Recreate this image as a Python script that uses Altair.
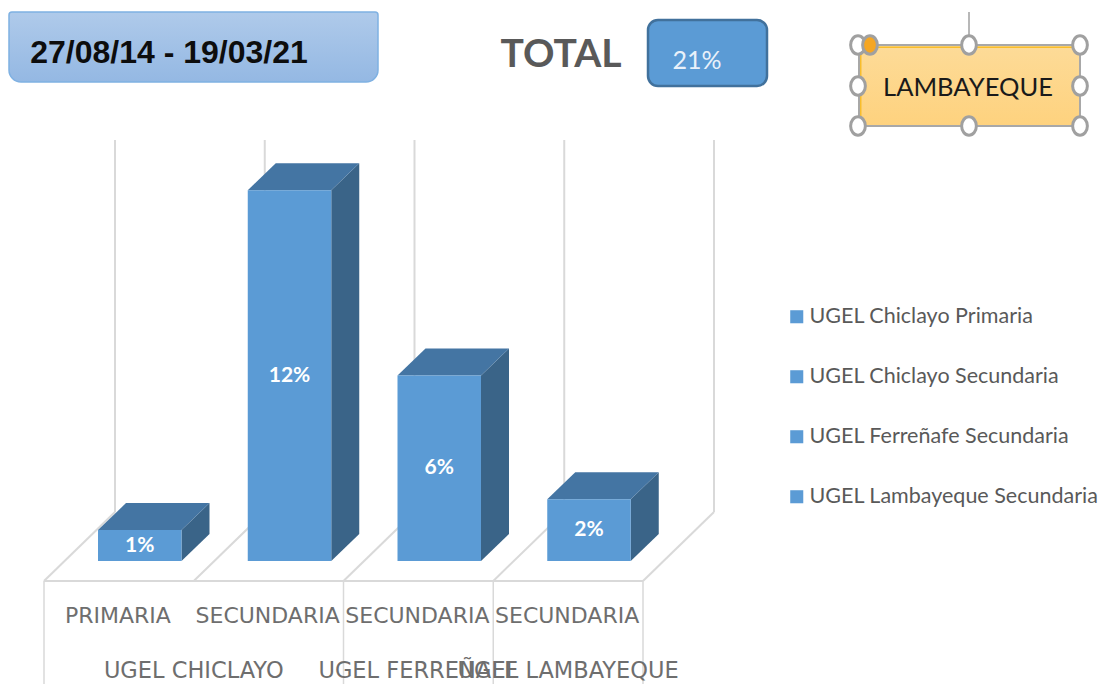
import altair as alt
import pandas as pd

# ---- chart values
groups = ["UGEL CHICLAYO", "UGEL FERREÑAFE", "UGEL LAMBAYEQUE"]
group_centres = [1.0, 2.5, 3.5]
levels = ["PRIMARIA", "SECUNDARIA", "SECUNDARIA", "SECUNDARIA"]
series = ["UGEL Chiclayo Primaria", "UGEL Chiclayo Secundaria",
          "UGEL Ferreñafe Secundaria", "UGEL Lambayeque Secundaria"]
values = [1, 12, 6, 2]
period = "27/08/14 - 19/03/21"
total_label = "TOTAL"
total_value = "21%"
filter_label = "LAMBAYEQUE"

FONT = "Lato"
FRONT, TOP, SIDE = "#5b9bd5", "#4475a3", "#3a6488"
GRID = "#d9d9d9"

W, H = 1096, 676
SLOT = 149.75            # px per category
UNIT = 30.9              # px per percentage point
ORIGIN_X, ORIGIN_Y = 44 - 8, 561 - 8
px = lambda v: (v) / SLOT
py = lambda v: (v) / UNIT
xs = alt.Scale(domain=[-ORIGIN_X / SLOT, (W - ORIGIN_X) / SLOT], range=[0, W], nice=False, zero=False)
ys = alt.Scale(domain=[(ORIGIN_Y - H) / UNIT, ORIGIN_Y / UNIT], range=[H, 0], nice=False, zero=False)
X = lambda f, t="Q": alt.X(f"{f}:{t}", scale=xs, axis=None)
Y = lambda f, t="Q": alt.Y(f"{f}:{t}", scale=ys, axis=None)

BAR_OFF, BAR_W = px(54), px(83.5)
DX, DY = px(28), py(27)
FLOOR = py(-20)
WALL_DX, WALL_DY = px(71), py(69)
WALL_TOP = py(421)
BOTTOM = (ORIGIN_Y - H) / UNIT

EMPTY = alt.Data(values=[{"a": 1}])

def seg(x1, y1, x2, y2, color=GRID, width=2):
    d = pd.DataFrame({"x": [x1, x2], "y": [y1, y2]})
    return alt.Chart(d).mark_line(color=color, strokeWidth=width, clip=False).encode(X("x"), Y("y"))

def box(x0, x1, y0, y1, **kw):
    return alt.Chart(EMPTY).mark_rect(**kw).encode(
        x=alt.value(x0 - 8), x2=alt.value(x1 - 8), y=alt.value(y0 - 8), y2=alt.value(y1 - 8))

def label(text, x, y, **kw):
    return alt.Chart(EMPTY).mark_text(text=text, baseline="middle", **kw).encode(
        x=alt.value(x - 8), y=alt.value(y - 8))

def grad(c0, c1):
    return alt.LinearGradient(gradient="linear", x1=0, x2=0, y1=0, y2=1,
                              stops=[alt.GradientStop(color=c0, offset=0), alt.GradientStop(color=c1, offset=1)])

layers = []

# 3-D floor and walls
n = len(values)
for i in range(n + 1):
    layers.append(seg(i, FLOOR, i + WALL_DX, FLOOR + WALL_DY))
    layers.append(seg(i + WALL_DX, FLOOR + WALL_DY, i + WALL_DX, WALL_TOP))
layers.append(seg(0, FLOOR, n, FLOOR))
for i in [0, 2, 3, 4]:
    layers.append(seg(i, FLOOR, i, BOTTOM, width=1.5))

# bars
rows = pd.DataFrame({"i": range(n), "series": series, "value": values, "level": levels})
rows["x0"] = rows.i + BAR_OFF
rows["x1"] = rows.x0 + BAR_W
rows["text"] = [f"{v}%" for v in values]
rows["mid"] = rows.value / 2
rows["cx"] = (rows.x0 + rows.x1) / 2
rows["lx"] = rows.i + 0.5 - px(1)

side = pd.concat([
    pd.DataFrame({"i": rows.i, "px": rows.x1, "top": rows.value, "low": 0.0}),
    pd.DataFrame({"i": rows.i, "px": rows.x1 + DX, "top": rows.value + DY, "low": DY}),
]).reset_index(drop=True)
top = pd.concat([
    pd.DataFrame({"i": rows.i, "py": rows.value, "left": rows.x0, "right": rows.x1}),
    pd.DataFrame({"i": rows.i, "py": rows.value + DY, "left": rows.x0 + DX, "right": rows.x1 + DX}),
]).reset_index(drop=True)
layers.append(alt.Chart(side).mark_area(color=SIDE, opacity=1).encode(
    x=X("px"), y=Y("top"), y2=alt.Y2("low:Q"), detail="i:N"))
layers.append(alt.Chart(top).mark_area(color=TOP, opacity=1, orient="horizontal").encode(
    y=Y("py"), x=X("left"), x2=alt.X2("right:Q"), detail="i:N"))
layers.append(alt.Chart(rows).mark_rect().encode(
    X("x0"), x2="x1:Q", y=Y("value"), y2=alt.Y2(datum=0),
    color=alt.Color("series:N", scale=alt.Scale(domain=series, range=[FRONT] * 4),
                    legend=alt.Legend(title=None, orient="none", legendX=778, legendY=298,
                                      symbolType="square", symbolSize=170, symbolStrokeWidth=0,
                                      labelFont=FONT, labelFontSize=21.5, labelColor="#595959",
                                      labelOffset=2, rowPadding=37, labelLimit=400,
                                      symbolOpacity=1))))
layers.append(alt.Chart(rows).mark_text(font=FONT, fontWeight="bold", fontSize=21, color="white",
                                        baseline="middle").encode(X("cx"), Y("mid"), text="text:N"))

# category labels
cat_y = py(-55)
rows["cy"] = cat_y
layers.append(alt.Chart(rows).mark_text(font="DejaVu Sans", fontSize=22, color="#6e6e6e",
                                        baseline="middle", clip=False).encode(X("lx"), Y("cy"), text="level:N"))
gdf = pd.DataFrame({"x": group_centres, "t": groups, "y": py(-110)})
layers.append(alt.Chart(gdf).mark_text(font="DejaVu Sans", fontSize=22.5, color="#6e6e6e",
                                       baseline="middle", clip=False).encode(X("x"), Y("y"), text="t:N"))

# header shapes
layers.append(box(9, 378, 12, 82, fill=grad("#afcaea", "#94b8e3"), stroke="#7fb1e2", strokeWidth=1.5,
                  cornerRadiusBottomLeft=12, cornerRadiusBottomRight=12,
                  cornerRadiusTopLeft=3, cornerRadiusTopRight=3))
layers.append(label(period, 169, 53, font="Liberation Sans", fontWeight="bold", fontSize=32, color="#0d0d0d"))
layers.append(label(total_label, 561, 55, font=FONT, fontWeight="bold", fontSize=39, color="#595959"))
layers.append(box(648, 767, 20, 86, fill=FRONT, stroke="#41719c", strokeWidth=2.5, cornerRadius=10))
layers.append(label(total_value, 697, 61, font=FONT, fontSize=25, color="#e9f1fa"))

# selected slicer shape
layers.append(alt.Chart(EMPTY).mark_rule(color="#a0a0a0", strokeWidth=1.5).encode(
    x=alt.value(969 - 8), y=alt.value(12 - 8), y2=alt.value(37 - 8)))
layers.append(box(859, 1080, 45, 126, fill=grad("#fddb98", "#fed27e"), stroke="#a8a8a8", strokeWidth=2))
layers.append(box(860, 1079, 46.5, 48, fill="#f8bd2c"))
layers.append(box(860, 861.5, 46.5, 124, fill="#f8bd2c"))
layers.append(label(filter_label, 968, 88, font=FONT, fontSize=25.5, color="#1a1a1a"))
ELL = "M-0.8,0A0.8,1,0,1,1,0.8,0A0.8,1,0,1,1,-0.8,0Z"
handles = [(858, 45), (969, 45), (1080, 45), (858, 86), (1080, 86), (858, 126), (969, 126), (1080, 126)]
for hx, hy in handles:
    layers.append(alt.Chart(EMPTY).mark_point(shape=ELL, size=340, filled=True, fill="white",
                                              stroke="#a0a0a0", strokeWidth=3, opacity=1).encode(
        x=alt.value(hx - 8), y=alt.value(hy - 8)))
layers.append(alt.Chart(EMPTY).mark_point(shape=ELL, size=340, filled=True, fill="#f5a623",
                                          stroke="#a0a0a0", strokeWidth=3, opacity=1).encode(
    x=alt.value(870 - 8), y=alt.value(45 - 8)))

chart = alt.layer(*layers).properties(
    width=W, height=H, padding=0, autosize=alt.AutoSizeParams(type="none"), background="white"
).configure_view(stroke=None)

chart.save("out.html", embed_options={"renderer": "svg", "actions": False})
